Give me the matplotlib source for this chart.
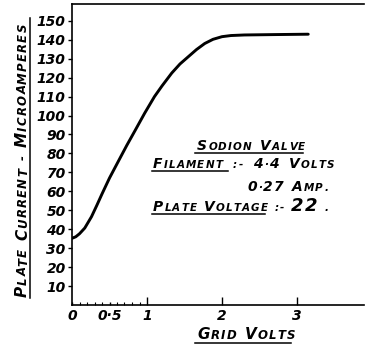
import matplotlib
matplotlib.use('Agg')
import matplotlib.pyplot as plt
from matplotlib.lines import Line2D

W, H = 367, 345

# curve
grid_volts = [0, 0.05, 0.1, 0.17, 0.26, 0.33, 0.4, 0.5, 0.62, 0.73, 0.84, 0.97, 1.1, 1.2,
              1.33, 1.44, 1.55, 1.66, 1.77, 1.88, 2.0, 2.12, 2.3, 2.7, 3.15]
plate_current = [35.2, 36.0, 37.6, 40.6, 46.6, 52.5, 58.6, 67, 76, 84.2, 92, 101.3, 110, 115.6,
                 122.4, 127.2, 131, 134.8, 138, 140.2, 141.6, 142.2, 142.5, 142.7, 142.9]

y_ticks = [10, 20, 30, 40, 50, 60, 70, 80, 90, 100, 110, 120, 130, 140, 150]
x_ticks = [0, 0.5, 1, 2, 3]
x_ticklabels = ['0', '0·5', '1', '2', '3']
x_minor = [0.1, 0.2, 0.3, 0.4, 0.6, 0.7, 0.8, 0.9]

font = dict(family='DejaVu Sans', style='italic', weight='bold', color='black')

fig = plt.figure(figsize=(W / 100, H / 100), dpi=100)
ax = fig.add_axes([72 / W, 40 / H, 292 / W, 301 / H])

ax.plot(grid_volts, plate_current, color='black', lw=2.1,
        solid_capstyle='round', solid_joinstyle='round')

ax.set_xlim(0, 292 / 75)
ax.set_ylim(0, 301 / 1.895)

for s in ['left', 'bottom', 'top']:
    ax.spines[s].set_linewidth(1.2)
ax.spines['right'].set_visible(False)

ax.set_yticks(y_ticks)
ax.set_yticklabels([str(v) for v in y_ticks], fontdict=dict(size=10, **font))
ax.tick_params(axis='y', direction='out', length=3, width=1, pad=1.5)

ax.set_xticks(x_ticks)
ax.set_xticklabels(x_ticklabels, fontdict=dict(size=10, **font))
ax.set_xticks(x_minor, minor=True)
ax.tick_params(axis='x', which='major', direction='in', length=6, width=1, pad=3)
ax.tick_params(axis='x', which='minor', direction='in', length=2.5, width=0.8)
for t in ax.xaxis.get_major_ticks()[:2]:
    t.tick1line.set_markersize(2.5)


def letters(text):
    # hand-lettered small caps: first letter of a word large, digits large, rest small
    out = []
    for w in text.upper().split(' '):
        word = []
        for i, c in enumerate(w):
            big = c.isdigit() or (i == 0 and c.isalpha())
            word.append((c, big))
        out.append(word)
    return out


def caps(x, y, text, big, small, vertical=False, gap=6, track=0.85, digit=None):
    # x, y: baseline start in pixels from the top-left corner
    X, Y = x, H - y
    prev = None
    for wd in letters(text):
        for j, (c, isbig) in enumerate(wd):
            off = (gap if j == 0 else track) if prev is not None else 0
            sz = big if isbig else small
            if digit and c.isdigit():
                sz = digit
            kw = dict(fontsize=sz, ha='left', va='baseline',
                      annotation_clip=False, textcoords='offset points', **font)
            if vertical:
                kw.update(rotation=90, rotation_mode='anchor')
            if prev is None:
                prev = ax.annotate(c, xy=(X, Y), xycoords='figure pixels', xytext=(0, 0), **kw)
            elif vertical:
                prev = ax.annotate(c, xy=(X, 1), xycoords=('figure pixels', prev),
                                   xytext=(0, off), **kw)
            else:
                prev = ax.annotate(c, xy=(1, Y), xycoords=(prev, 'figure pixels'),
                                   xytext=(off, 0), **kw)


def line(x0, y0, x1, y1, lw=1.1):
    fig.add_artist(Line2D([x0 / W, x1 / W], [1 - y0 / H, 1 - y1 / H],
                          transform=fig.transFigure, color='black', lw=lw))


# axis titles
caps(27, 297, 'Plate Current - Microamperes', 11, 8.5, vertical=True)
line(30, 18, 30, 298)
caps(197, 339, 'Grid Volts', 11, 8.5)
line(195, 343, 291, 343)

# notes
caps(197, 150, 'Sodion Valve', 10, 7.5)
line(195, 153, 303, 153)
caps(153, 168, 'Filament :- 4·4 Volts', 10, 7.5, gap=7.5)
line(152, 171, 228, 171)
caps(247, 191, '0·27 Amp.', 10, 7.5)
caps(153, 211, 'Plate Voltage :- 22 .', 10, 7.5, gap=5, digit=13)
line(152, 214, 265, 214)

fig.savefig('out.png', dpi=100)
